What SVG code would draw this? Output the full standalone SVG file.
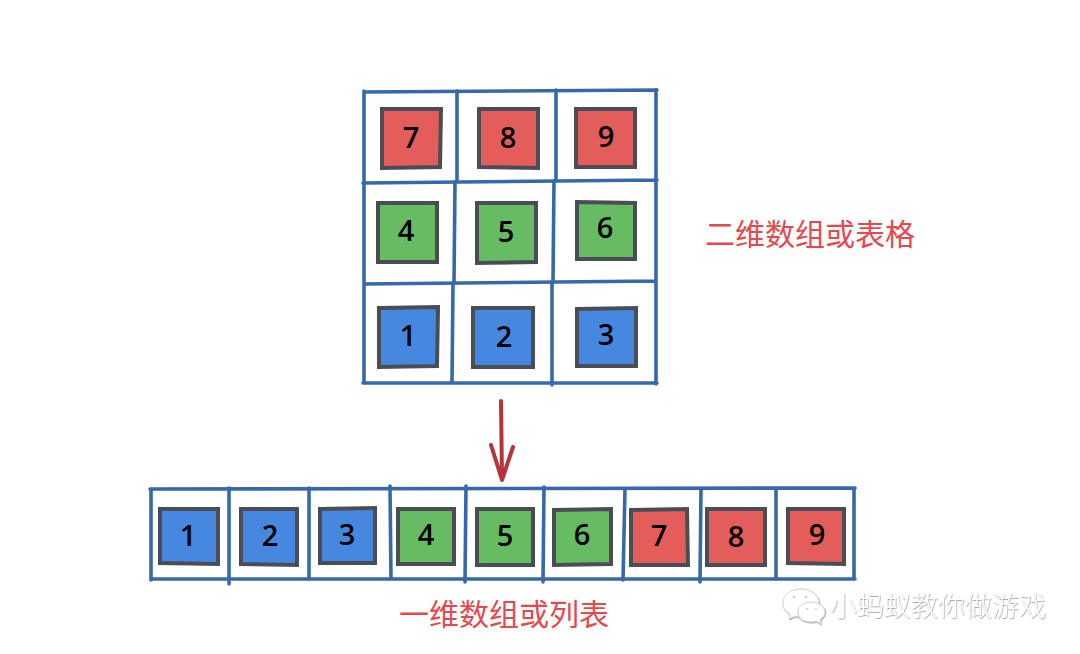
<svg xmlns="http://www.w3.org/2000/svg" width="1080" height="654" viewBox="0 0 1080 654">
<style>
.bg{fill:#fff}
.g{fill:none;stroke:#3569ac;stroke-width:3.6;stroke-linecap:round}
.sq{stroke:#4a4d55;stroke-width:4;stroke-linejoin:miter;stroke-linecap:round}
.r{fill:#e35d5a}.n{fill:#66bb63}.b{fill:#4688e0}
.d{font-family:"Open Sans","DejaVu Sans",sans-serif;font-size:29px;font-weight:600;fill:#000;text-anchor:middle}
.c{font-family:"Noto Sans CJK SC",sans-serif;font-size:30px;font-weight:400;fill:#e5484d}
.w{font-family:"Noto Sans CJK SC",sans-serif;font-size:27px;font-weight:300;fill:#fff;filter:url(#emb)}
.a{fill:none;stroke:#b5343a;stroke-width:4;stroke-linecap:round}
.i{fill:#fff;stroke:#d6d6d6;stroke-width:1;filter:url(#emb)}
</style>
<defs><filter id="emb" x="-10%" y="-10%" width="120%" height="120%"><feDropShadow dx=".5" dy=".7" stdDeviation=".5" flood-color="#8c8c8c"/></filter></defs>
<rect class="bg" width="1080" height="654"/>

<g id="grid-2d">
<path class="g" d="M364 92L657 90M364 91L364 383M363 383L657 383M656 90L656 384M363 183L657 180M364 284L656 281"/>
<path class="g" d="M457 91L457 181M455 182L454 283M453 284L452 382M556 90L556 181M554 181L553 282M552 282L552 385"/>
</g>

<g id="grid-1d">
<path class="g" d="M150 489L855 488M151 489L151 580M151 579L855 579M854 488L854 579"/>
<path class="g" d="M229 488L229 584M309 488L309 579M390 486L391 578M466 486L465 582M544 487L543 582M625 489L623 580M701 489L700 582M776 489L776 579"/>
</g>

<g id="connectors">
<path class="a" d="M501 401L502 480M491 445L502 480M513 447L502 480"/>
</g>

<g id="n7"><path class="sq r" d="M382 109L441 109L440 167L382 168Z"/><text class="d" x="411" y="148">7</text></g>
<g id="n8"><path class="sq r" d="M479 109L538 109L538 168L479 167Z"/><text class="d" x="508" y="148">8</text></g>
<g id="n9"><path class="sq r" d="M576 109L635 109L635 167L576 167Z"/><text class="d" x="606" y="147">9</text></g>
<g id="n4"><path class="sq n" d="M378 203L437 203L437 262L378 262Z"/><text class="d" x="406" y="241">4</text></g>
<g id="n5"><path class="sq n" d="M477 203L536 203L536 262L477 263Z"/><text class="d" x="506" y="242">5</text></g>
<g id="n6"><path class="sq n" d="M577 202L635 203L635 259L577 259Z"/><text class="d" x="605" y="238">6</text></g>
<g id="n1"><path class="sq b" d="M379 308L438 307L437 366L379 367Z"/><text class="d" x="408" y="346">1</text></g>
<g id="n2"><path class="sq b" d="M473 308L533 308L533 367L473 367Z"/><text class="d" x="504" y="347">2</text></g>
<g id="n3"><path class="sq b" d="M577 309L636 308L636 366L577 366Z"/><text class="d" x="606" y="345">3</text></g>

<g id="m1"><path class="sq b" d="M160 509L218 509L218 564L160 563Z"/><text class="d" x="188" y="546">1</text></g>
<g id="m2"><path class="sq b" d="M241 509L297 509L297 565L241 564Z"/><text class="d" x="270" y="546">2</text></g>
<g id="m3"><path class="sq b" d="M320 509L375 508L375 563L320 563Z"/><text class="d" x="347" y="545">3</text></g>
<g id="m4"><path class="sq n" d="M398 509L454 509L454 564L398 564Z"/><text class="d" x="426" y="545">4</text></g>
<g id="m5"><path class="sq n" d="M477 509L533 509L533 565L477 565Z"/><text class="d" x="505" y="546">5</text></g>
<g id="m6"><path class="sq n" d="M554 510L611 509L611 564L554 565Z"/><text class="d" x="582" y="545">6</text></g>
<g id="m7"><path class="sq r" d="M631 510L687 509L688 565L631 565Z"/><text class="d" x="659" y="546">7</text></g>
<g id="m8"><path class="sq r" d="M707 509L765 509L765 565L707 565Z"/><text class="d" x="736" y="547">8</text></g>
<g id="m9"><path class="sq r" d="M788 509L844 509L844 564L788 563Z"/><text class="d" x="817" y="545">9</text></g>

<g id="label-2d"><text class="c" x="705" y="245">二维数组或表格</text></g>
<g id="label-1d"><text class="c" x="399" y="625">一维数组或列表</text></g>

<g id="watermark">
<path class="i" d="M801 589C790 589 783 595 783 603C783 608 786 612 790 614L789 619L795 616C797 617 800 617 802 617C812 617 819 611 819 603C819 595 811 589 801 589Z"/>
<path class="i" d="M811 602C803 602 798 607 798 612C798 618 803 622 811 622C813 622 815 622 816 621L821 624L820 620C823 618 825 615 825 612C825 607 819 602 811 602Z"/>
<circle cx="794" cy="597" r="1.2" fill="#ccc"/><circle cx="806" cy="597" r="1.2" fill="#ccc"/>
<circle cx="807" cy="609" r="1" fill="#ccc"/><circle cx="816" cy="609" r="1" fill="#ccc"/>
<text class="w" x="830" y="616">小蚂蚁教你做游戏</text>
</g>
</svg>
